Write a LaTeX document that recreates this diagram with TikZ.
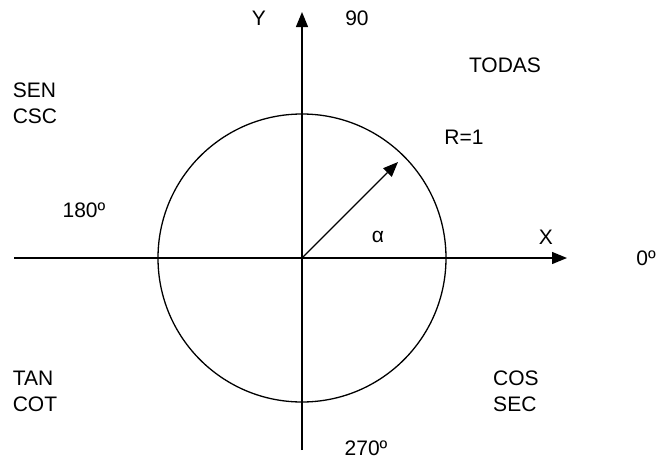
\documentclass[tikz,border=0pt]{standalone}
\usepackage{fontspec}
\setmainfont{Liberation Sans}
\usetikzlibrary{arrows.meta}
\begin{document}
\begin{tikzpicture}[x=1pt,y=-1pt,line width=1.3pt,
  lbl/.style={font=\fontsize{21}{26}\selectfont,inner sep=0pt,align=left},
  axisarrow/.style={-{Triangle[length=15pt,width=12pt]}}]
\useasboundingbox (0,0) rectangle (657,461);
\coordinate (O) at (302,258);
\coordinate (xl) at (14,258);
\coordinate (xr) at (567,258);
\coordinate (yb) at (302,450);
\coordinate (yt) at (302,12);
\coordinate (R) at (398,162);
\draw[axisarrow] (xl) -- (xr);
\draw[axisarrow] (yb) -- (yt);
\draw (O) circle[radius=144pt];
\draw[axisarrow] (O) -- (R);
\node[lbl] (ylbl) at (259,18) {Y};
\node[lbl] (n90) at (357,18) {90};
\node[lbl] (todas) at (505,65) {TODAS};
\node[lbl] (r1) at (464,137) {R=1};
\node[lbl] (q2) at (35,103) {SEN\\CSC};
\node[lbl] (n180) at (84,210) {180º};
\node[lbl] (alpha) at (378,237) {α};
\node[lbl] (xlbl) at (546,237) {X};
\node[lbl] (n0) at (646,258) {0º};
\node[lbl] (q3) at (35,391) {TAN\\COT};
\node[lbl] (q4) at (516,391) {COS\\SEC};
\node[lbl] (n270) at (366,448) {270º};
\end{tikzpicture}
\end{document}
